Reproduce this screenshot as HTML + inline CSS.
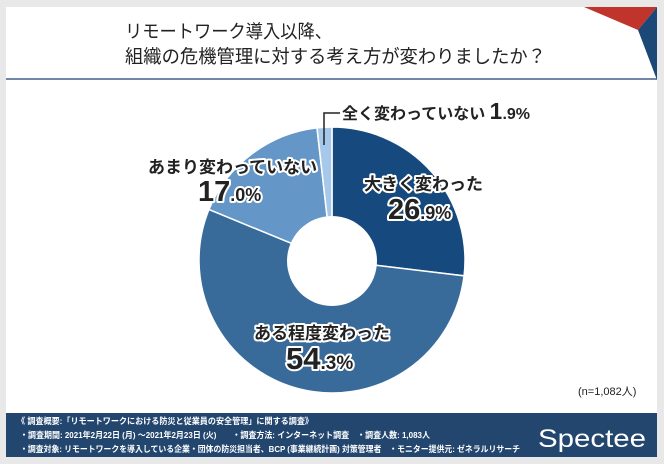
<!DOCTYPE html>
<html><head><meta charset="utf-8"><style>
body{margin:0;width:664px;height:464px;background:#e6e6e6;overflow:hidden;font-family:"Liberation Sans","Noto Sans CJK JP",sans-serif}
</style></head><body>
<svg width="664" height="464" viewBox="0 0 664 464" xmlns="http://www.w3.org/2000/svg" style="position:absolute;left:0;top:0">
<rect x="0" y="0" width="664" height="464" fill="#e8e8e8"/>
<rect x="6" y="7" width="651" height="450" fill="#fff"/>
<polygon points="584,7 657,7 638,30" fill="#c0342b"/>
<polygon points="638,30 657,7 657,80" fill="#1c4878"/>
<line x1="6" y1="79" x2="657" y2="79" stroke="#1f3f77" stroke-width="1.2"/>
<g font-family="Liberation Sans,Noto Sans CJK JP,sans-serif" font-size="18.5" fill="#222">
<text x="125" y="38" textLength="207" lengthAdjust="spacingAndGlyphs">リモートワーク導入以降、</text>
<text x="125" y="63" textLength="421" lengthAdjust="spacingAndGlyphs">組織の危機管理に対する考え方が変わりましたか？</text>
</g>
<g stroke="#fff" stroke-width="1.5">
<path d="M332,260 L332,127 A133,133 0 0 1 464.06,275.82 Z" fill="#164a7e"/>
<path d="M332,260 L464.06,275.82 A133,133 0 1 1 208.96,209.49 Z" fill="#386a9a"/>
<path d="M332,260 L208.96,209.49 A133,133 0 0 1 316.99,127.85 Z" fill="#6497c8"/>
<path d="M332,260 L316.99,127.85 A133,133 0 0 1 332,127 Z" fill="#a6c8ea"/>
</g>
<circle cx="332" cy="261" r="45" fill="#fff"/>
<polyline points="324,145 324,113 340,113" fill="none" stroke="#222" stroke-width="1.5"/>
<g font-family="Liberation Sans,Noto Sans CJK JP,sans-serif" font-weight="bold" fill="#222" stroke="#fff" stroke-width="4" stroke-linejoin="round" style="paint-order:stroke">
<text x="342" y="119" font-size="16">全く変わっていない <tspan font-size="23">1</tspan><tspan font-size="16">.9%</tspan></text>
<text x="148" y="173" font-size="17">あまり変わっていない</text>
<text x="198" y="201" font-size="29">17<tspan font-size="18">.0%</tspan></text>
<text x="364" y="190" font-size="17">大きく変わった</text>
<text x="388" y="219" font-size="29">26<tspan font-size="18">.9%</tspan></text>
<text x="254" y="339" font-size="17">ある程度変わった</text>
<text x="286" y="369" font-size="31">54<tspan font-size="19">.3%</tspan></text>
</g>
<text x="578" y="395" font-size="11" fill="#222" font-family="Liberation Sans,Noto Sans CJK JP,sans-serif">(n=1,082人)</text>
<rect x="6" y="413" width="651" height="44" fill="#23466f"/>
<g font-family="Liberation Sans,Noto Sans CJK JP,sans-serif" font-size="8.5" font-weight="bold" fill="#fff">
<text x="17" y="424" textLength="296" lengthAdjust="spacingAndGlyphs">《 調査概要:「リモートワークにおける防災と従業員の安全管理」に関する調査》</text>
<text x="20" y="438" textLength="410" lengthAdjust="spacingAndGlyphs">・調査期間: 2021年2月22日 (月) ～2021年2月23日 (火)　　・調査方法: インターネット調査　・調査人数: 1,083人</text>
<text x="20" y="452" textLength="500" lengthAdjust="spacingAndGlyphs">・調査対象: リモートワークを導入している企業・団体の防災担当者、BCP (事業継続計画) 対策管理者　・モニター提供元: ゼネラルリサーチ</text>
</g>
<text x="538" y="447" font-size="25" fill="#fff" font-family="Liberation Sans,sans-serif" textLength="108" lengthAdjust="spacingAndGlyphs">Spectee</text>
</svg>
</body></html>
